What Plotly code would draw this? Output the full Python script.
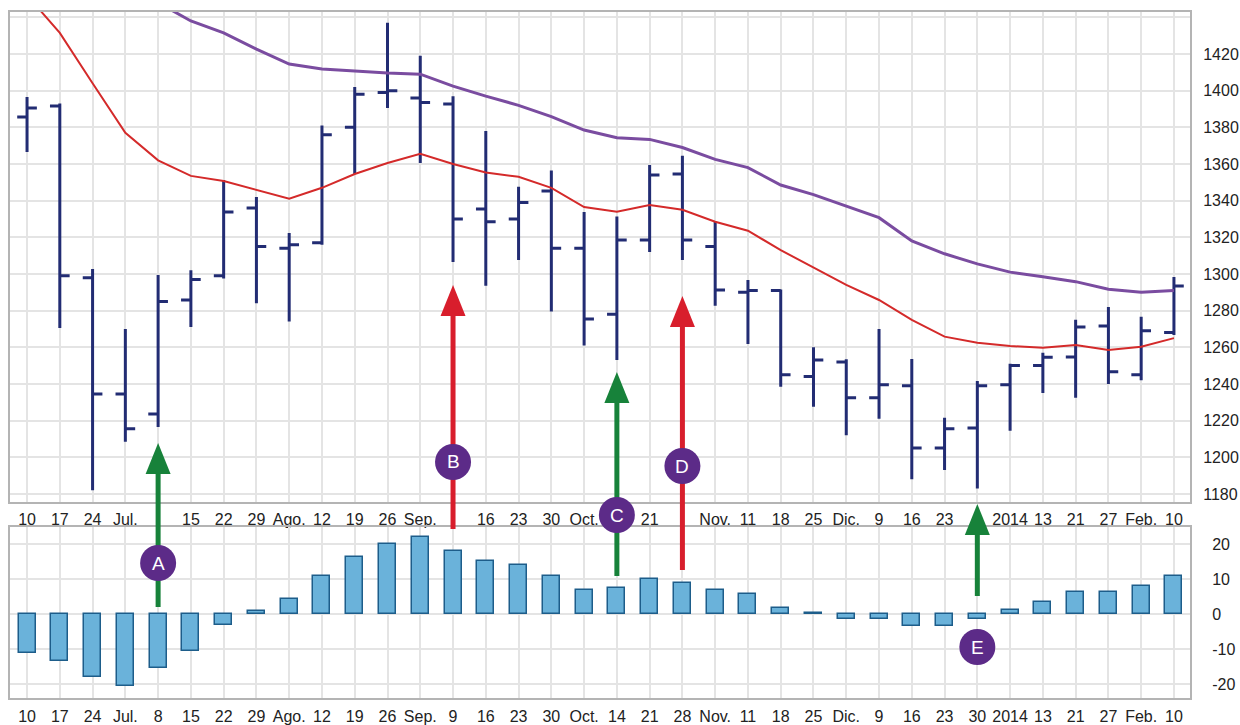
import plotly.graph_objects as go

# weekly bars, mid-2013 to Feb 2014
week_labels = ["10", "17", "24", "Jul.", "8", "15", "22", "29", "Ago.", "12", "19", "26",
               "Sep.", "9", "16", "23", "30", "Oct.", "14", "21", "28", "Nov.", "11", "18",
               "25", "Dic.", "9", "16", "23", "30", "2014", "13", "21", "27", "Feb.", "10"]

open_ = [1385.6, 1391.6, 1298, 1234.5, 1223.6, 1285.8, 1299, 1336, 1314, 1317, 1380, 1399,
         1396, 1392.7, 1335.5, 1330, 1345.3, 1314, 1278, 1318.5, 1354.5, 1315, 1290, 1291,
         1244, 1252, 1232.5, 1239, 1205, 1216, 1239.5, 1250, 1254.7, 1271.6, 1245, 1268]
high = [1396.5, 1393, 1302.7, 1270, 1299.5, 1302, 1351.3, 1342, 1322.4, 1381, 1402, 1437,
        1419, 1397, 1378, 1347.6, 1356.4, 1333.8, 1331.3, 1359.5, 1364.5, 1328.5, 1296.7, 1291.5,
        1260, 1253.5, 1270, 1253.6, 1221.5, 1241.6, 1251, 1257, 1275, 1282, 1276.7, 1298.4]
low = [1366.5, 1270.5, 1182, 1208.5, 1216.5, 1271, 1297.5, 1284, 1274, 1316, 1354.5, 1390.5,
       1360.5, 1306.5, 1293.6, 1307.6, 1279.5, 1261, 1253, 1312, 1307.6, 1282.7, 1261.8, 1238.5,
       1227.5, 1212, 1221, 1188, 1193, 1183, 1214.5, 1235, 1232.5, 1240, 1242, 1266.7]
close = [1390.5, 1299, 1234.5, 1215.5, 1285, 1297, 1333.8, 1315, 1316, 1376, 1398, 1400,
         1393.5, 1330, 1328.5, 1339, 1314, 1275.4, 1318.5, 1354, 1318.5, 1291.3, 1291, 1245,
         1253, 1232.5, 1239.5, 1205, 1215.5, 1239, 1250, 1254.6, 1271, 1246.7, 1269, 1293.5]

ma_fast = [1452, 1431.5, 1404, 1377, 1362, 1353.5, 1350.7, 1346, 1341, 1347, 1354.5, 1360.5,
           1365.5, 1360, 1355.3, 1353, 1347, 1336.5, 1334, 1337.6, 1335, 1328.5, 1323.6, 1313,
           1303.3, 1294, 1285.8, 1275, 1265.8, 1262.5, 1260.7, 1259.8, 1261.3, 1258.5, 1260.3, 1265]
ma_slow = [None, None, None, None, 1448, 1438, 1431.5, 1422.7, 1414.5, 1411.8, 1410.7, 1409.6,
           1409, 1402.5, 1397, 1392, 1385.8, 1378.5, 1374.3, 1373.4, 1369, 1362.5, 1358, 1348.5,
           1343.3, 1337, 1330.7, 1318, 1311, 1305.5, 1301, 1298.5, 1295.8, 1291.7, 1290, 1291]

hist = [-11, -13.5, -18, -20.5, -15.5, -10.5, -3, 0.8, 4.3, 11, 16.5, 20,
        22, 18, 15.3, 14, 11, 7, 7.5, 10, 9, 7, 5.7, 1.8,
        0.5, -1.5, -1.5, -3.5, -3.5, -1.3, 1.2, 3.5, 6.5, 6.5, 8, 11]

price_ticks = [1180, 1200, 1220, 1240, 1260, 1280, 1300, 1320, 1340, 1360, 1380, 1400, 1420]
hist_ticks = [-20, -10, 0, 10, 20]

# signal markers (bar index, colour, arrow tip / tail / circle centre in page pixels)
sig_letters = ["A", "B", "C", "D", "E"]
sig_index = [4, 13, 18, 20, 29]
sig_colors = ["#17823a", "#d81e2c", "#17823a", "#d81e2c", "#17823a"]
sig_tip_px = [443, 285, 372, 296, 504]
sig_tail_px = [607, 529, 576, 570, 596]
sig_circle_px = [563, 462, 515, 466, 647]

W, H = 1240, 725
ML, MR, MT, MB = 10, 50, 12, 27
x_range = [-0.52, 35.49]
top_range = [1175.6, 1442.9]
bot_range = [-24, 25]

x = list(range(len(week_labels)))
top_text = [("" if i in sig_index else t) for i, t in enumerate(week_labels)]

fig = go.Figure()

fig.add_trace(go.Ohlc(
    x=x, open=open_, high=high, low=low, close=close,
    increasing=dict(line=dict(color="#222c73", width=3)),
    decreasing=dict(line=dict(color="#222c73", width=3)),
    tickwidth=0.3, xaxis="x", yaxis="y", showlegend=False, hoverinfo="skip"
))
fig.add_trace(go.Scatter(x=x, y=ma_fast, mode="lines", line=dict(color="#d42a2a", width=2),
                         xaxis="x", yaxis="y", showlegend=False, hoverinfo="skip"))
fig.add_trace(go.Scatter(x=x, y=ma_slow, mode="lines", line=dict(color="#7a4ca0", width=3),
                         xaxis="x", yaxis="y", showlegend=False, hoverinfo="skip"))
fig.add_trace(go.Bar(x=x, y=hist, width=0.52,
                     marker=dict(color="#6ab2da", line=dict(color="#1d5d8a", width=1.5)),
                     xaxis="x2", yaxis="y2", showlegend=False, hoverinfo="skip"))

pw = W - ML - MR
ph = H - MT - MB


def xpaper(i):
    return (i - x_range[0]) / (x_range[1] - x_range[0])


def ypaper(p):
    return (H - MB - p) / ph


shapes = []
annotations = []
head_len, head_w, shaft_w, rad = 31, 25, 5, 18
for letter, idx, col, tip, tail, cy in zip(sig_letters, sig_index, sig_colors,
                                          sig_tip_px, sig_tail_px, sig_circle_px):
    xc = xpaper(idx)
    hw = head_w / 2 / pw
    shapes.append(dict(type="line", xref="paper", yref="paper", x0=xc, x1=xc,
                       y0=ypaper(tail), y1=ypaper(tip + head_len - 2),
                       line=dict(color=col, width=shaft_w)))
    shapes.append(dict(type="path", xref="paper", yref="paper", fillcolor=col,
                       line=dict(width=0),
                       path=f"M {xc - hw} {ypaper(tip + head_len)} L {xc} {ypaper(tip)} "
                            f"L {xc + hw} {ypaper(tip + head_len)} Z"))
    shapes.append(dict(type="circle", xref="paper", yref="paper", fillcolor="#5c2b88",
                       line=dict(width=0),
                       x0=xc - rad / pw, x1=xc + rad / pw,
                       y0=ypaper(cy + rad), y1=ypaper(cy - rad)))
    annotations.append(dict(text=letter, xref="paper", yref="paper", x=xc, y=ypaper(cy),
                            xanchor="center", yanchor="middle", showarrow=False,
                            font=dict(color="white", size=19, family="Arial")))

axis_common = dict(showgrid=True, gridcolor="#e4e4e4", gridwidth=2, zeroline=False,
                   showline=True, mirror=True, linecolor="#b4b4b4", linewidth=2,
                   ticks="", fixedrange=True, automargin=False)

fig.update_layout(
    width=W, height=H,
    margin=dict(l=ML, r=MR, t=MT, b=MB, autoexpand=False),
    plot_bgcolor="white", paper_bgcolor="white",
    font=dict(family="Arial, Liberation Sans", size=16, color="#222222"),
    bargap=0,
    xaxis=dict(axis_common, domain=[0, 1], range=x_range, anchor="y",
               tickvals=x, ticktext=top_text, ticklabelstandoff=2, rangeslider=dict(visible=False)),
    yaxis=dict(axis_common, domain=[0.2857, 1], range=top_range, side="right", anchor="x",
               tickvals=price_ticks + [1440], ticktext=[str(v) for v in price_ticks] + [""],
               ticklabelstandoff=8, tickfont=dict(size=16)),
    xaxis2=dict(axis_common, domain=[0, 1], range=x_range, anchor="y2",
                tickvals=x, ticktext=week_labels, ticklabelstandoff=3),
    yaxis2=dict(axis_common, domain=[0, 0.2493], range=bot_range, side="right", anchor="x2",
                tickvals=hist_ticks, ticktext=[str(v) for v in hist_ticks],
                ticklabelstandoff=17, tickfont=dict(size=16)),
    shapes=shapes,
    annotations=annotations,
)

# drop the default page margin so the figure sits at the window's corner
fig.write_html("out.html", config={"displayModeBar": False},
               post_script="document.body.style.margin='0px';")
